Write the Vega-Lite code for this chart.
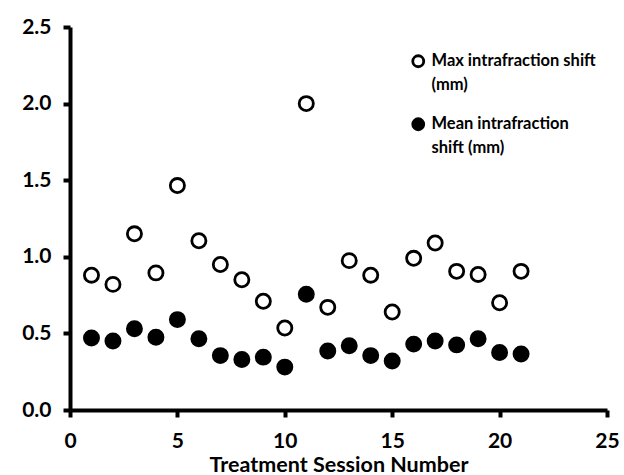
{
  "$schema": "https://vega.github.io/schema/vega-lite/v6.json",
  "width": 537,
  "height": 383,
  "autosize": {"type": "none"},
  "padding": {"left": 70, "top": 27, "right": 17, "bottom": 65},
  "background": "white",
  "config": {
    "view": {"stroke": null},
    "font": "Lato",
    "style": {"guide-label": {"lineHeight": 24}},
    "axis": {
      "grid": false,
      "domain": true,
      "domainColor": "#000000",
      "domainWidth": 4,
      "ticks": true,
      "tickColor": "#000000",
      "tickWidth": 4,
      "tickSize": 7,
      "labelFont": "Lato",
      "labelFontWeight": "bold",
      "labelFontSize": 21,
      "labelColor": "#000000",
      "labelFlush": false,
      "labelOverlap": false,
      "titleFont": "Lato",
      "titleFontWeight": "bold",
      "titleFontSize": 21.5,
      "titleColor": "#000000"
    }
  },
  "data": {
    "values": [
      {"session": 1, "series": "Max", "shift": 0.88},
      {"session": 2, "series": "Max", "shift": 0.82},
      {"session": 3, "series": "Max", "shift": 1.15},
      {"session": 4, "series": "Max", "shift": 0.895},
      {"session": 5, "series": "Max", "shift": 1.465},
      {"session": 6, "series": "Max", "shift": 1.105},
      {"session": 7, "series": "Max", "shift": 0.95},
      {"session": 8, "series": "Max", "shift": 0.85},
      {"session": 9, "series": "Max", "shift": 0.71},
      {"session": 10, "series": "Max", "shift": 0.535},
      {"session": 11, "series": "Max", "shift": 2.0},
      {"session": 12, "series": "Max", "shift": 0.67},
      {"session": 13, "series": "Max", "shift": 0.975},
      {"session": 14, "series": "Max", "shift": 0.88},
      {"session": 15, "series": "Max", "shift": 0.64},
      {"session": 16, "series": "Max", "shift": 0.99},
      {"session": 17, "series": "Max", "shift": 1.09},
      {"session": 18, "series": "Max", "shift": 0.905},
      {"session": 19, "series": "Max", "shift": 0.885},
      {"session": 20, "series": "Max", "shift": 0.70},
      {"session": 21, "series": "Max", "shift": 0.905},
      {"session": 1, "series": "Mean", "shift": 0.47},
      {"session": 2, "series": "Mean", "shift": 0.45},
      {"session": 3, "series": "Mean", "shift": 0.53},
      {"session": 4, "series": "Mean", "shift": 0.475},
      {"session": 5, "series": "Mean", "shift": 0.59},
      {"session": 6, "series": "Mean", "shift": 0.465},
      {"session": 7, "series": "Mean", "shift": 0.355},
      {"session": 8, "series": "Mean", "shift": 0.33},
      {"session": 9, "series": "Mean", "shift": 0.345},
      {"session": 10, "series": "Mean", "shift": 0.28},
      {"session": 11, "series": "Mean", "shift": 0.755},
      {"session": 12, "series": "Mean", "shift": 0.385},
      {"session": 13, "series": "Mean", "shift": 0.42},
      {"session": 14, "series": "Mean", "shift": 0.355},
      {"session": 15, "series": "Mean", "shift": 0.32},
      {"session": 16, "series": "Mean", "shift": 0.43},
      {"session": 17, "series": "Mean", "shift": 0.45},
      {"session": 18, "series": "Mean", "shift": 0.425},
      {"session": 19, "series": "Mean", "shift": 0.465},
      {"session": 20, "series": "Mean", "shift": 0.375},
      {"session": 21, "series": "Mean", "shift": 0.365}
    ]
  },
  "mark": {"type": "point", "shape": "circle", "filled": true, "stroke": "black", "strokeWidth": 2.8, "size": 200, "opacity": 1},
  "encoding": {
    "x": {
      "field": "session",
      "type": "quantitative",
      "scale": {"domain": [0, 25], "nice": false, "zero": true},
      "axis": {
        "values": [0, 5, 10, 15, 20, 25],
        "title": "Treatment Session Number",
        "labelPadding": 13,
        "titlePadding": 3
      }
    },
    "y": {
      "field": "shift",
      "type": "quantitative",
      "scale": {"domain": [0, 2.5], "nice": false},
      "axis": {
        "values": [0, 0.5, 1, 1.5, 2, 2.5],
        "format": ".1f",
        "title": null,
        "labelPadding": 12
      }
    },
    "fill": {
      "field": "series",
      "type": "nominal",
      "scale": {"domain": ["Max", "Mean"], "range": ["white", "black"]},
      "legend": {
        "title": null,
        "orient": "none",
        "legendX": 340,
        "legendY": 26,
        "symbolType": "circle",
        "symbolSize": 120,
        "symbolStrokeColor": "black",
        "symbolStrokeWidth": 2.8,
        "labelFont": "Lato",
        "labelFontWeight": "bold",
        "labelFontSize": 16.5,
        "labelColor": "black",
        "labelLimit": 300,
        "labelOffset": 5,
        "labelBaseline": "middle",
        "labelExpr": "datum.value == 'Max' ? ['Max intrafraction shift', '(mm)'] : ['Mean intrafraction', 'shift (mm)']",
        "rowPadding": 19
      }
    }
  }
}
